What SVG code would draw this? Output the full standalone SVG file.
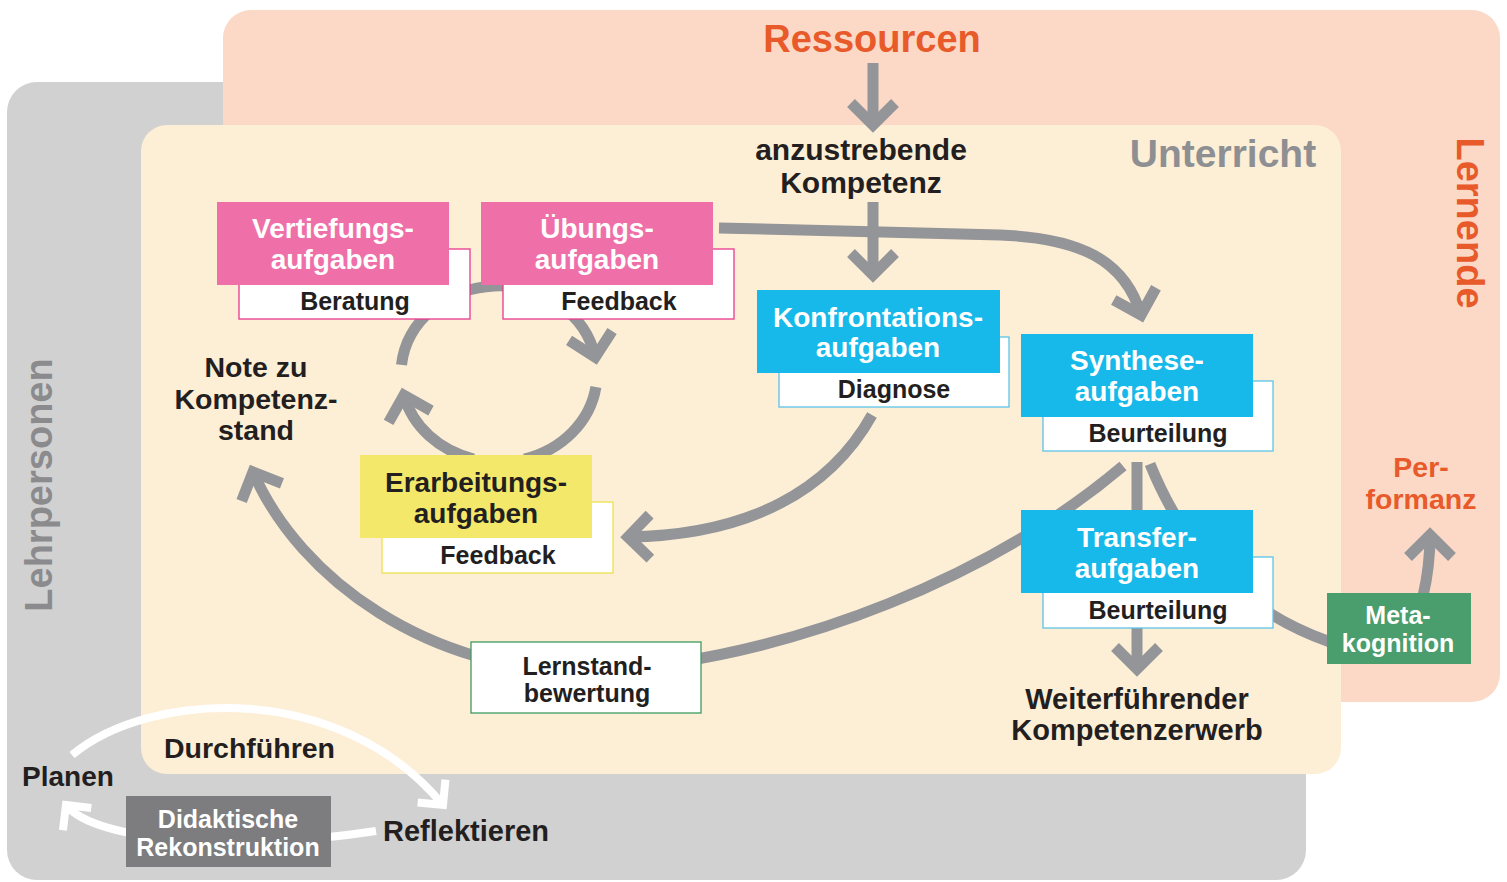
<svg xmlns="http://www.w3.org/2000/svg" width="1507" height="882" viewBox="0 0 1507 882">
<defs>
<style>
text{font-family:"Liberation Sans",Arial,sans-serif;font-weight:bold;text-anchor:middle}
.t28{font-size:28px}
.t25{font-size:25px}
.w{fill:#fff}
.k{fill:#231f20}
.o{fill:#e85a2a}
.pink{fill:#ef6fa8}
.blue{fill:#16b9e9}
.yel{fill:#f4e86b}
.subp{fill:#fff;stroke:#e8388e;stroke-width:1.3}
.subb{fill:#fff;stroke:#5cc3e8;stroke-width:1.3}
.suby{fill:#fff;stroke:#efe04f;stroke-width:1.3}
.subg{fill:#fff;stroke:#3d9b60;stroke-width:1.3}
.conn{fill:none;stroke:#939598;stroke-width:11}
.wconn{fill:none;stroke:#fff;stroke-width:8}
</style>
<marker id="ag" markerUnits="userSpaceOnUse" orient="auto" viewBox="-30 -30 60 60" markerWidth="60" markerHeight="60" refX="0" refY="0" overflow="visible">
<path d="M-22,-22 L0,0 L-22,22" fill="none" stroke="#939598" stroke-width="11" stroke-linejoin="miter"/>
</marker>
<marker id="aw" markerUnits="userSpaceOnUse" orient="auto" viewBox="-30 -30 60 60" markerWidth="60" markerHeight="60" refX="0" refY="0" overflow="visible">
<path d="M-18,-18 L0,0 L-18,18" fill="none" stroke="#fff" stroke-width="8" stroke-linejoin="miter"/>
</marker>
</defs>

<g id="backgrounds">
<rect x="7" y="82" width="1299" height="798" rx="30" fill="#d1d1d2"/>
<rect x="223" y="10" width="1277" height="692" rx="28" fill="#fbd9c6"/>
<rect x="141" y="125" width="1200" height="649" rx="26" fill="#fdeed6"/>
</g>

<g id="labels">
<text x="872" y="52" class="o" style="font-size:38px">Ressourcen</text>
<text x="1223" y="167" style="font-size:39px;fill:#8e8f92">Unterricht</text>
<text transform="translate(1457,223) rotate(90)" class="o" style="font-size:38px">Lernende</text>
<text transform="translate(52,485) rotate(-90)" style="font-size:38px;fill:#8b8b8e">Lehrpersonen</text>
<text x="861" y="160" class="k" style="font-size:30px">anzustrebende</text>
<text x="861" y="193" class="k" style="font-size:30px">Kompetenz</text>
<text x="256" y="377" class="k" style="font-size:28.5px">Note zu</text>
<text x="256" y="409" class="k" style="font-size:28.5px">Kompetenz-</text>
<text x="256" y="440" class="k" style="font-size:28.5px">stand</text>
<text x="1421" y="477" class="o" style="font-size:28.5px">Per-</text>
<text x="1421" y="509" class="o" style="font-size:28.5px">formanz</text>
<text x="1137" y="709" class="k" style="font-size:29px">Weiterführender</text>
<text x="1137" y="740" class="k" style="font-size:29px">Kompetenzerwerb</text>
<text x="164" y="758" class="k" style="font-size:28.5px;text-anchor:start">Durchführen</text>
<text x="22" y="786" class="k" style="font-size:28px;text-anchor:start">Planen</text>
<text x="383" y="841" class="k" style="font-size:29px;text-anchor:start">Reflektieren</text>
</g>

<g id="connectors">
<path class="conn" d="M873,63 L873,125" marker-end="url(#ag)"/>
<path class="conn" d="M873,202 L873,275" marker-end="url(#ag)"/>
<path class="conn" d="M719,228 L1000,235 C1080,238 1125,260 1141,315" marker-end="url(#ag)"/>
<path class="conn" d="M401.5,364.8 A98,88 0 0 1 595.2,357.2" marker-end="url(#ag)"/>
<path class="conn" d="M595.9,387 A98,88 0 0 1 524.4,459"/>
<path class="conn" d="M473.6,459 A98,88 0 0 1 403.9,395.3" marker-end="url(#ag)"/>
<path class="conn" d="M872,415 C830,490 750,535 628,537" marker-end="url(#ag)"/>
<path class="conn" d="M1123,466 C1000,570 800,660 587,672 C430,672 300,580 253,472" marker-end="url(#ag)"/>
<path class="conn" d="M1137,462 L1137,515"/>
<path class="conn" d="M1150,464 C1185,550 1240,610 1330,642"/>
<path class="conn" d="M1137,626 L1137,669" marker-end="url(#ag)"/>
<path class="conn" d="M1423,596 C1428,575 1430,560 1430,535" marker-end="url(#ag)"/>
<path class="wconn" d="M72,755 C150,690 340,680 443,805" marker-end="url(#aw)"/>
<path class="wconn" d="M376,831 C240,852 95,842 66,805" marker-end="url(#aw)"/>
</g>

<g id="vertiefung">
<rect x="239" y="249" width="231" height="70" class="subp"/>
<rect x="217" y="202" width="232" height="83" class="pink"/>
<text x="333" y="238" class="w t28">Vertiefungs-</text>
<text x="333" y="269" class="w t28">aufgaben</text>
<text x="355" y="310" class="k t25">Beratung</text>
</g>

<g id="uebung">
<rect x="503" y="249" width="231" height="70" class="subp"/>
<rect x="481" y="202" width="232" height="83" class="pink"/>
<text x="597" y="238" class="w t28">Übungs-</text>
<text x="597" y="269" class="w t28">aufgaben</text>
<text x="619" y="310" class="k t25">Feedback</text>
</g>

<g id="konfrontation">
<rect x="779" y="337" width="230" height="70" class="subb"/>
<rect x="757" y="290" width="243" height="83" class="blue"/>
<text x="878" y="327" class="w t28">Konfrontations-</text>
<text x="878" y="357" class="w t28">aufgaben</text>
<text x="894" y="398" class="k t25">Diagnose</text>
</g>

<g id="synthese">
<rect x="1043" y="381" width="230" height="70" class="subb"/>
<rect x="1021" y="334" width="232" height="83" class="blue"/>
<text x="1137" y="370" class="w t28">Synthese-</text>
<text x="1137" y="401" class="w t28">aufgaben</text>
<text x="1158" y="442" class="k t25">Beurteilung</text>
</g>

<g id="erarbeitung">
<rect x="382" y="502" width="231" height="71" class="suby"/>
<rect x="360" y="455" width="232" height="83" class="yel"/>
<text x="476" y="492" class="k t28">Erarbeitungs-</text>
<text x="476" y="523" class="k t28">aufgaben</text>
<text x="498" y="564" class="k t25">Feedback</text>
</g>

<g id="transfer">
<rect x="1043" y="557" width="230" height="71" class="subb"/>
<rect x="1021" y="510" width="232" height="83" class="blue"/>
<text x="1137" y="547" class="w t28">Transfer-</text>
<text x="1137" y="578" class="w t28">aufgaben</text>
<text x="1158" y="619" class="k t25">Beurteilung</text>
</g>

<g id="lernstand">
<rect x="471" y="642" width="230" height="71" class="subg"/>
<text x="587" y="675" class="k t25">Lernstand-</text>
<text x="587" y="702" class="k t25">bewertung</text>
</g>

<g id="metakognition">
<rect x="1327" y="593" width="144" height="71" fill="#4a9d6c"/>
<text x="1398" y="624" class="w t25">Meta-</text>
<text x="1398" y="652" class="w t25">kognition</text>
</g>

<g id="didaktische">
<rect x="126" y="796" width="205" height="71" fill="#7d7c7e"/>
<text x="228" y="828" class="w t25">Didaktische</text>
<text x="228" y="856" class="w t25">Rekonstruktion</text>
</g>
</svg>
